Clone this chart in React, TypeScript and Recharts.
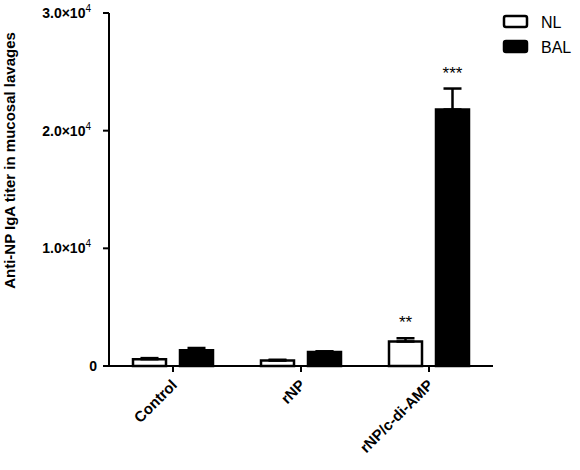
import { Bar, BarChart, ErrorBar, LabelList, XAxis, YAxis } from "recharts";

// values
const groups = ["Control", "rNP", "rNP/c-di-AMP"];
const nlTiter = [580, 460, 2080];
const nlSem = [90, 70, 280];
const balTiter = [1330, 1200, 21800];
const balSem = [200, 50, 1780];
const nlStars = ["", "", "**"];
const balStars = ["", "", "***"];
const yTicks = [0, 10000, 20000, 30000];
const seriesNames = ["NL", "BAL"];
const seriesFills = ["#fff", "#000"];

const data = groups.map((g, i) => ({
  group: g,
  nl: nlTiter[i],
  nlErr: [0, nlSem[i]],
  nlStars: nlStars[i],
  bal: balTiter[i],
  balErr: [0, balSem[i]],
  balStars: balStars[i],
}));

const FONT = "'Liberation Sans', Arial, sans-serif";

function YTick({ x, y, payload }: any) {
  const v = payload.value as number;
  if (v === 0) {
    return (
      <text x={x - 4} y={y + 5} textAnchor="end" fontFamily={FONT} fontWeight="bold" fontSize={14} fill="#000">
        0
      </text>
    );
  }
  const exp = Math.floor(Math.log10(v));
  const mant = (v / Math.pow(10, exp)).toFixed(1);
  return (
    <text x={x - 10} y={y + 5} textAnchor="end" fontFamily={FONT} fontWeight="bold" fontSize={14} fill="#000">
      {mant}×10
      <tspan dy={-6} fontSize={10} fontWeight="normal">
        {exp}
      </tspan>
    </text>
  );
}

function XTick({ x, y, payload }: any) {
  return (
    <g transform={`translate(${x + 5},${y + 12})`}>
      <text textAnchor="end" transform="rotate(-45)" fontFamily={FONT} fontWeight="bold" fontSize={15} fill="#000">
        {payload.value}
      </text>
    </g>
  );
}

function starLabel(values: number[], sems: number[]) {
  return (props: any) => {
    const { x, y, width, height, value, index } = props;
    if (!value) return null;
    const perUnit = height / values[index];
    const capY = y - sems[index] * perUnit;
    return (
      <text x={x + width / 2} y={capY - 10} textAnchor="middle" fontFamily={FONT} fontSize={17} fill="#000">
        {value}
      </text>
    );
  };
}

function LegendBox() {
  return (
    <svg width={80} height={56} style={{ position: "absolute", left: 500, top: 10 }}>
      {seriesNames.map((name, i) => (
        <g key={name} transform={`translate(0,${i * 25})`}>
          <rect x={4} y={6} width={23} height={11} rx={2} fill={seriesFills[i]} stroke="#000" strokeWidth={2.5} />
          <text x={41} y={18} fontFamily={FONT} fontSize={16} fill="#000">
            {name}
          </text>
        </g>
      ))}
    </svg>
  );
}

export default function App() {
  return (
    <div style={{ position: "absolute", left: 0, top: 0, width: 580, height: 470, background: "#fff" }}>
      <BarChart
        width={580}
        height={470}
        data={data}
        margin={{ top: 13, right: 87, left: 0, bottom: 0 }}
        barSize={33}
        barGap={14}
      >
        <XAxis
          dataKey="group"
          height={104}
          tick={<XTick />}
          axisLine={{ stroke: "#000", strokeWidth: 2 }}
          tickLine={{ stroke: "#000", strokeWidth: 2 }}
          tickSize={6}
          interval={0}
        />
        <YAxis
          width={109}
          domain={[0, 30000]}
          ticks={yTicks}
          tick={<YTick />}
          axisLine={{ stroke: "#000", strokeWidth: 2 }}
          tickLine={{ stroke: "#000", strokeWidth: 2 }}
          tickSize={6}
          label={
            <text
              x={20}
              y={195}
              transform="rotate(-90, 20, 195)"
              textAnchor="middle"
              fontFamily={FONT}
              fontWeight="bold"
              fontSize={15}
              fill="#000"
            >
              Anti-NP IgA titer in mucosal lavages
            </text>
          }
        />
        <Bar dataKey="nl" name="NL" fill="#fff" stroke="#000" strokeWidth={2.5} isAnimationActive={false}>
          <ErrorBar dataKey="nlErr" width={9} stroke="#000" strokeWidth={2.5} direction="y" />
          <LabelList dataKey="nlStars" content={starLabel(nlTiter, nlSem)} />
        </Bar>
        <Bar dataKey="bal" name="BAL" fill="#000" stroke="#000" strokeWidth={2.5} isAnimationActive={false}>
          <ErrorBar dataKey="balErr" width={9} stroke="#000" strokeWidth={2.5} direction="y" />
          <LabelList dataKey="balStars" content={starLabel(balTiter, balSem)} />
        </Bar>
      </BarChart>
      <LegendBox />
    </div>
  );
}
